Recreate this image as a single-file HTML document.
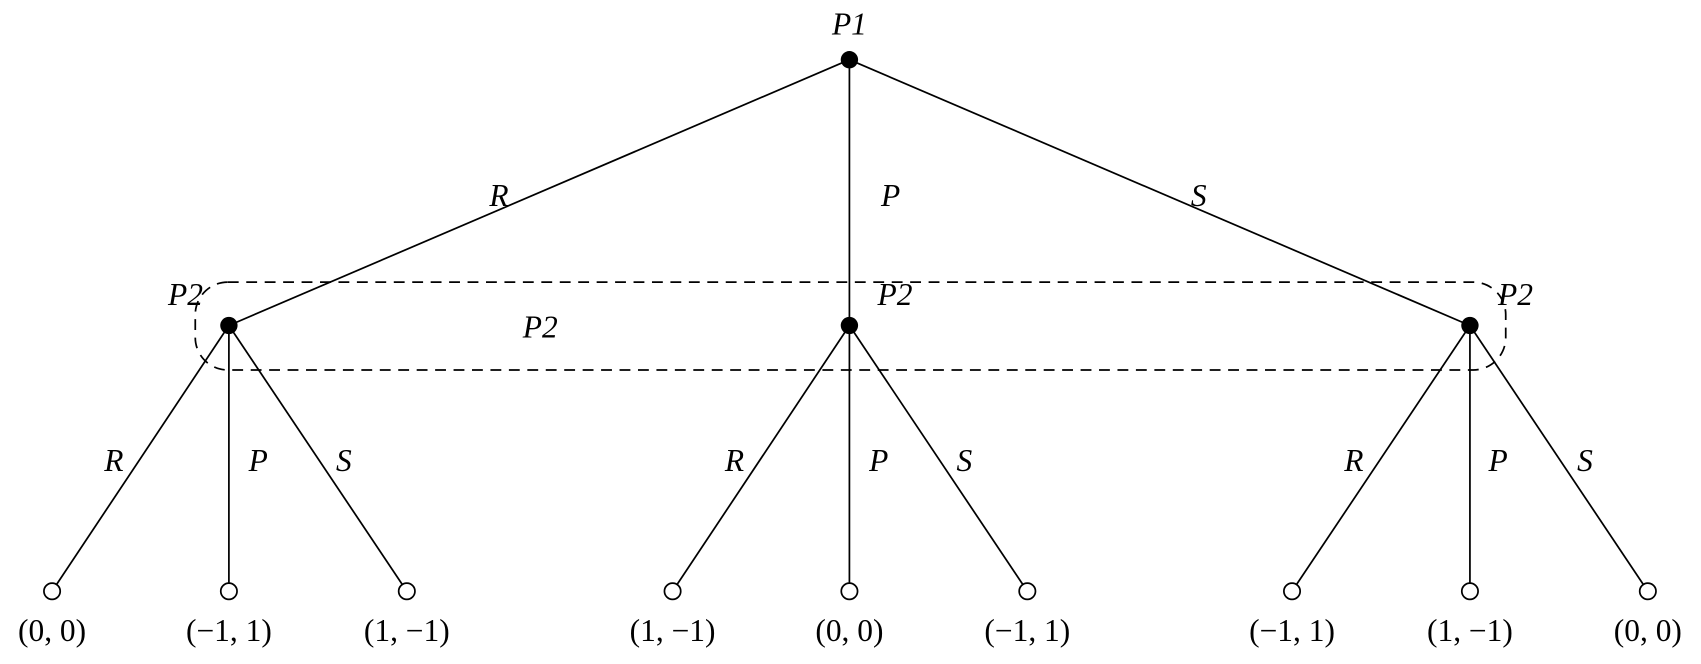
<!DOCTYPE html>
<html><head><style>html,body{margin:0;padding:0;background:#fff}svg{display:block}</style></head>
<body>
<svg width="1701" height="664" viewBox="0 0 1568 612" xmlns="http://www.w3.org/2000/svg" font-family="Liberation Serif, serif" font-size="29">
<g stroke="#000" stroke-width="1.6" fill="none">
<line x1="783" y1="55" x2="211" y2="300"/>
<line x1="783" y1="55" x2="783" y2="300"/>
<line x1="783" y1="55" x2="1355" y2="300"/>
<line x1="211" y1="300" x2="48" y2="545"/>
<line x1="211" y1="300" x2="211" y2="545"/>
<line x1="211" y1="300" x2="375" y2="545"/>
<line x1="783" y1="300" x2="620" y2="545"/>
<line x1="783" y1="300" x2="783" y2="545"/>
<line x1="783" y1="300" x2="947" y2="545"/>
<line x1="1355" y1="300" x2="1191" y2="545"/>
<line x1="1355" y1="300" x2="1355" y2="545"/>
<line x1="1355" y1="300" x2="1519" y2="545"/>
<rect x="180" y="260" width="1208" height="81" rx="30" ry="30" stroke-dasharray="10,7"/>
</g>
<g fill="#000"><circle cx="783" cy="55" r="8"/><circle cx="211" cy="300" r="8"/><circle cx="783" cy="300" r="8"/><circle cx="1355" cy="300" r="8"/></g>
<g fill="#fff" stroke="#000" stroke-width="1.6">
<circle cx="48" cy="545" r="7.5"/><circle cx="211" cy="545" r="7.5"/><circle cx="375" cy="545" r="7.5"/>
<circle cx="620" cy="545" r="7.5"/><circle cx="783" cy="545" r="7.5"/><circle cx="947" cy="545" r="7.5"/>
<circle cx="1191" cy="545" r="7.5"/><circle cx="1355" cy="545" r="7.5"/><circle cx="1519" cy="545" r="7.5"/>
</g>
<g font-style="italic" text-anchor="middle">
<text x="783" y="32">P1</text>
<text x="460" y="190">R</text><text x="821" y="190">P</text><text x="1105" y="190">S</text>
<text x="171" y="281">P2</text><text x="825" y="281">P2</text><text x="1397" y="281">P2</text><text x="498" y="311">P2</text>
<text x="105" y="434">R</text><text x="238" y="434">P</text><text x="317" y="434">S</text>
<text x="677" y="434">R</text><text x="810" y="434">P</text><text x="889" y="434">S</text>
<text x="1248" y="434">R</text><text x="1381" y="434">P</text><text x="1461" y="434">S</text>
</g>
<g text-anchor="middle">
<text x="48" y="591">(0, 0)</text><text x="211" y="591">(−1, 1)</text><text x="375" y="591">(1, −1)</text>
<text x="620" y="591">(1, −1)</text><text x="783" y="591">(0, 0)</text><text x="947" y="591">(−1, 1)</text>
<text x="1191" y="591">(−1, 1)</text><text x="1355" y="591">(1, −1)</text><text x="1519" y="591">(0, 0)</text>
</g>
</svg>
</body></html>
